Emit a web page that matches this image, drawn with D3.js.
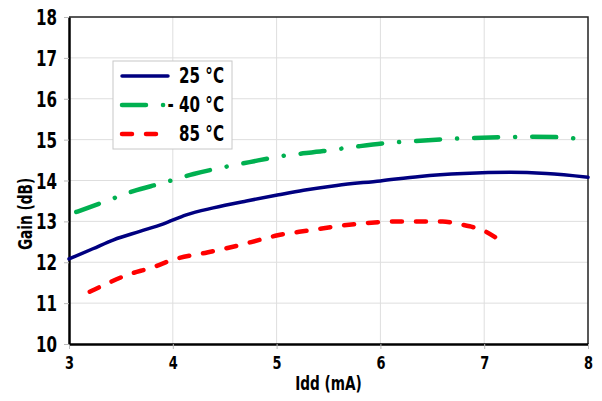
<!DOCTYPE html>
<html>
<head>
<meta charset="utf-8">
<script src="https://cdn.jsdelivr.net/npm/d3@7"></script>
<style>
  body { margin: 0; background: #fff; }
  text { font-family: "Liberation Sans Narrow", "DejaVu Sans Condensed", "Arial Narrow", sans-serif; font-weight: bold; fill: #000; }
</style>
</head>
<body>
<div id="chart"></div>
<script>
// Idd (mA) and gain (dB) per temperature
var idd25 = [3.0, 3.23, 3.43, 3.69, 3.91, 4.13, 4.39, 4.71, 5.02, 5.26, 5.58, 6.0, 6.38, 6.8, 7.25, 7.6, 8.0];
var gain25 = [12.08, 12.33, 12.55, 12.76, 12.94, 13.16, 13.33, 13.5, 13.65, 13.76, 13.88, 13.99, 14.1, 14.17, 14.2, 14.17, 14.08];

var iddM40 = [3.07, 3.33, 3.62, 3.89, 4.2, 4.48, 4.74, 5.03, 5.45, 5.74, 6.03, 6.31, 6.61, 6.88, 7.18, 7.45, 7.73, 7.87];
var gainM40 = [13.23, 13.47, 13.74, 13.93, 14.16, 14.32, 14.45, 14.59, 14.72, 14.82, 14.91, 14.96, 15.01, 15.04, 15.06, 15.07, 15.06, 15.03];

var idd85 = [3.2, 3.31, 3.55, 3.81, 4.0, 4.33, 4.58, 4.84, 5.01, 5.32, 5.58, 5.87, 6.16, 6.42, 6.6, 6.72, 6.86, 6.99, 7.18];
var gain85 = [11.28, 11.41, 11.68, 11.88, 12.06, 12.24, 12.38, 12.55, 12.66, 12.78, 12.88, 12.96, 13.0, 13.0, 13.0, 12.95, 12.88, 12.78, 12.48];

var seriesNames = ['25 \u00B0C', '- 40 \u00B0C', '85 \u00B0C'];
var xTicks = [3, 4, 5, 6, 7, 8];
var yTicks = [10, 11, 12, 13, 14, 15, 16, 17, 18];

// the original font is a bold condensed face, squeeze the fallback a bit
var squeeze = 0.8;

var margin = { top: 17, right: 14, bottom: 57, left: 69 },
  width = 602 - margin.left - margin.right,
  height = 401 - margin.top - margin.bottom;

var svg = d3.select('#chart').append('svg')
  .attr('width', 602)
  .attr('height', 401);

var g = svg.append('g')
  .attr('transform', 'translate(' + margin.left + ',' + margin.top + ')');

var x = d3.scaleLinear().domain([3, 8]).range([0, width]);
var y = d3.scaleLinear().domain([10, 18]).range([height, 0]);

// grid lines
g.selectAll('.vgrid')
  .data(xTicks.slice(1, -1))
  .enter().append('line')
  .attr('x1', function (d) { return x(d); })
  .attr('x2', function (d) { return x(d); })
  .attr('y1', 0).attr('y2', height)
  .attr('stroke', '#dedede').attr('stroke-width', 1);

g.selectAll('.hgrid')
  .data(yTicks.slice(1, -1))
  .enter().append('line')
  .attr('x1', 0).attr('x2', width)
  .attr('y1', function (d) { return y(d); })
  .attr('y2', function (d) { return y(d); })
  .attr('stroke', '#dedede').attr('stroke-width', 1);

// top and right frame
g.append('path')
  .attr('d', 'M0,0H' + width + 'V' + height)
  .attr('fill', 'none')
  .attr('stroke', '#222').attr('stroke-width', 1.5);

// axes
var xAxis = g.append('g')
  .attr('transform', 'translate(0,' + height + ')')
  .call(d3.axisBottom(x).tickValues(xTicks).tickFormat(d3.format('d')).tickSizeInner(5).tickSizeOuter(0));
var yAxis = g.append('g')
  .call(d3.axisLeft(y).tickValues(yTicks).tickFormat(d3.format('d')).tickSizeInner(5).tickSizeOuter(0));

[xAxis, yAxis].forEach(function (ax) {
  ax.select('.domain').attr('stroke', '#000').attr('stroke-width', 2.5);
  ax.selectAll('.tick line').attr('stroke', '#bbb');
  ax.selectAll('.tick text').attr('fill', '#000')
    .style('font-family', '"Liberation Sans Narrow", "DejaVu Sans Condensed", sans-serif')
    .style('font-weight', 'bold')
    .attr('transform', 'scale(' + squeeze + ',1)');
});
xAxis.selectAll('.tick text')
  .style('font-size', '18px')
  .attr('y', 25)
  .attr('dy', null);
yAxis.selectAll('.tick text')
  .style('font-size', '21px')
  .attr('x', -12 / squeeze)
  .attr('dy', '0.36em');

// axis titles
svg.append('g')
  .attr('transform', 'translate(' + (margin.left + width / 2) + ',390) scale(' + squeeze + ',1)')
  .append('text')
  .attr('text-anchor', 'middle')
  .style('font-size', '19px')
  .text('Idd (mA)');

svg.append('g')
  .attr('transform', 'translate(32,214) rotate(-90) scale(' + squeeze + ',1)')
  .append('text')
  .attr('text-anchor', 'middle')
  .style('font-size', '19px')
  .text('Gain (dB)');

// curves
var line = d3.line()
  .x(function (d) { return x(d[0]); })
  .y(function (d) { return y(d[1]); })
  .curve(d3.curveMonotoneX);

var series = [
  { name: seriesNames[0], xs: idd25, ys: gain25, color: '#000080', width: 3.5, dash: null },
  { name: seriesNames[1], xs: iddM40, ys: gainM40, color: '#00B050', width: 4.5, dash: '24,17,0.1,17' },
  { name: seriesNames[2], xs: idd85, ys: gain85, color: '#FF0000', width: 4.5, dash: '10,14' }
];

series.forEach(function (s) {
  var pts = s.xs.map(function (v, i) { return [v, s.ys[i]]; });
  g.append('path')
    .datum(pts)
    .attr('d', line)
    .attr('fill', 'none')
    .attr('stroke', s.color)
    .attr('stroke-width', s.width)
    .attr('stroke-linecap', 'round')
    .attr('stroke-dasharray', s.dash);
});

// legend
var legend = svg.append('g').attr('transform', 'translate(113,61)');
legend.append('rect')
  .attr('x', 0).attr('y', 0)
  .attr('width', 119).attr('height', 88)
  .attr('fill', '#fff')
  .attr('stroke', '#c8c8c8').attr('stroke-width', 1);

series.forEach(function (s, i) {
  var ly = 15 + i * 29;
  legend.append('line')
    .attr('x1', 9).attr('x2', s.dash ? 52 : 55)
    .attr('y1', ly).attr('y2', ly)
    .attr('stroke', s.color)
    .attr('stroke-width', s.width)
    .attr('stroke-linecap', 'round')
    .attr('stroke-dasharray', s.dash);
  legend.append('g')
    .attr('transform', 'translate(111,' + (ly + 7) + ') scale(' + squeeze + ',1)')
    .append('text')
    .attr('text-anchor', 'end')
    .style('font-size', '21px')
    .text(s.name);
});
</script>
</body>
</html>
